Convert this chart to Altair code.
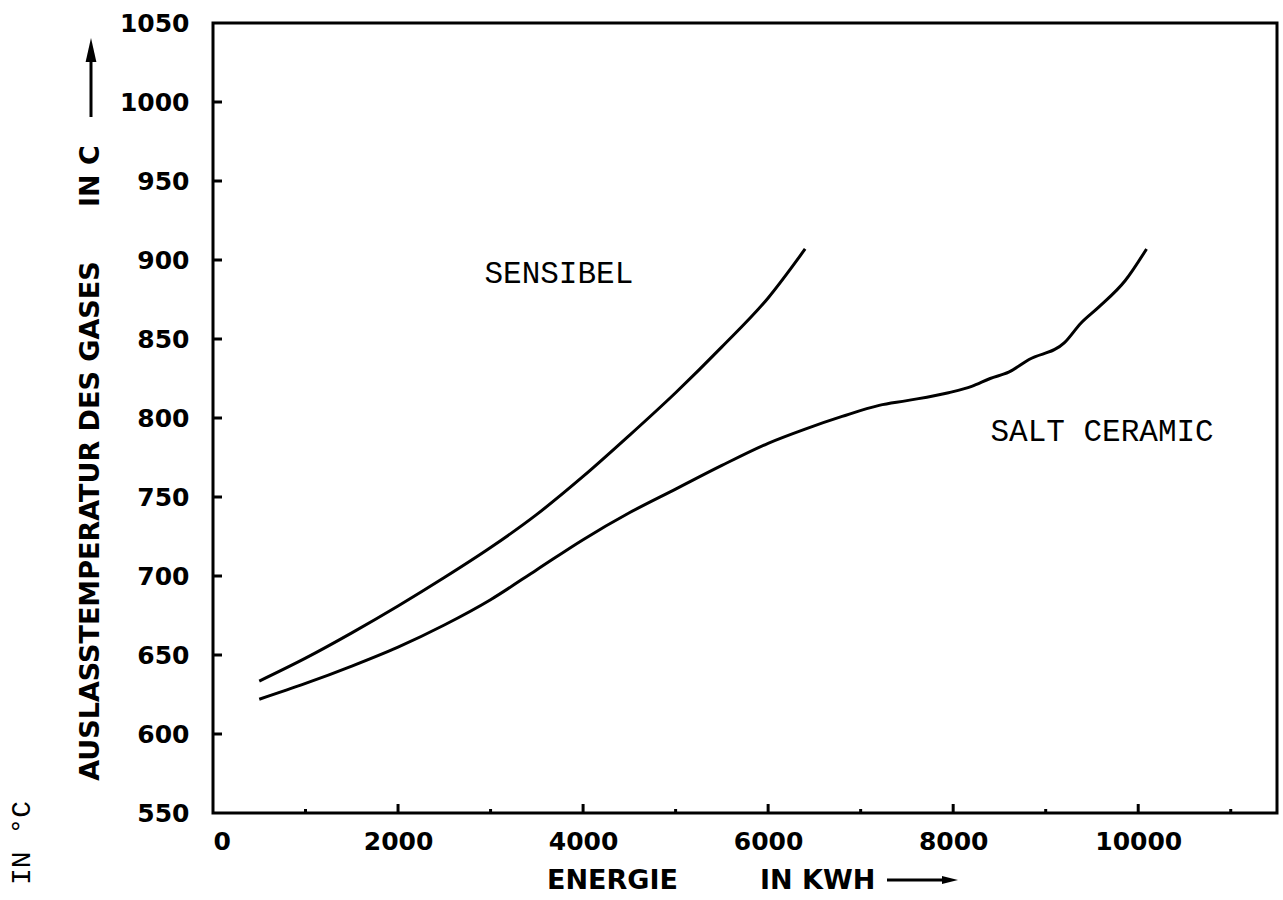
import altair as alt
import pandas as pd

# ---- data ----
sens_x = [500, 1000, 1500, 2000, 2500, 3000, 3500, 4000, 4500, 5000, 5500, 6000, 6400]
sens_y = [633.5, 648, 664, 681, 699, 718, 739, 763, 789, 816, 845, 876, 907]

salt_x = [500, 1000, 1500, 2000, 2500, 3000, 3500, 4000, 4500, 5000, 5500, 6000, 6400,
          6800, 7200, 7500, 7950, 8200, 8400, 8600, 8820, 9200, 9380, 9570, 9860, 10090]
salt_y = [622, 632, 643, 655, 669, 685, 704, 723, 740, 755, 770, 784, 793,
          801, 808, 811, 816, 820, 825, 829, 837, 847.5, 860, 870, 887, 907]

x_labels = [0, 2000, 4000, 6000, 8000, 10000]
x_major = [2000, 4000, 6000, 8000, 10000]
x_minor = [1000, 3000, 5000, 7000, 9000, 11000]
y_labels = [550, 600, 650, 700, 750, 800, 850, 900, 950, 1000, 1050]
y_ticks = [600, 650, 700, 750, 800, 850, 900, 950, 1000]

annot_text = ["SENSIBEL", "SALT CERAMIC"]
annot_x = [2934, 8403]
annot_y = [891, 791]

# ---- tables ----
sens_df = pd.DataFrame({"x": sens_x, "y": sens_y})
salt_df = pd.DataFrame({"x": salt_x, "y": salt_y})
annots = pd.DataFrame({"t": annot_text, "x": annot_x, "y": annot_y})

W, H = 1064, 790
TICK_FONT = "DejaVu Sans"
MONO = "Courier New, Liberation Mono, monospace"

xscale = alt.Scale(domain=[0, 11500], nice=False, zero=False)
yscale = alt.Scale(domain=[550, 1050], nice=False, zero=False)

xaxis = alt.Axis(values=x_labels, title=None, ticks=False, domain=False, grid=False,
                 labelPadding=16, labelFontSize=25, labelFont=TICK_FONT,
                 labelFontWeight="bold", labelColor="black", format="d")
yaxis = alt.Axis(values=y_labels, title=None, ticks=False, domain=False, grid=False,
                 labelPadding=24, labelFontSize=25, labelFont=TICK_FONT,
                 labelFontWeight="bold", labelColor="black", format="d")

sens = alt.Chart(sens_df).mark_line(color="black", strokeWidth=3, interpolate="monotone").encode(
    x=alt.X("x:Q", scale=xscale, axis=xaxis),
    y=alt.Y("y:Q", scale=yscale, axis=yaxis),
)
salt = alt.Chart(salt_df).mark_line(color="black", strokeWidth=3, interpolate="monotone").encode(
    x=alt.X("x:Q", scale=xscale),
    y=alt.Y("y:Q", scale=yscale),
)

labels = alt.Chart(annots).mark_text(
    font=MONO, fontSize=31, align="left", baseline="middle", color="black"
).encode(x=alt.X("x:Q", scale=xscale), y=alt.Y("y:Q", scale=yscale), text="t:N")

ytk = alt.Chart(pd.DataFrame({"v": y_ticks})).mark_rule(color="black", strokeWidth=3).encode(
    y=alt.Y("v:Q", scale=yscale), x=alt.value(0), x2=alt.value(9))
xmaj = alt.Chart(pd.DataFrame({"v": x_major})).mark_rule(color="black", strokeWidth=3).encode(
    x=alt.X("v:Q", scale=xscale), y=alt.value(H), y2=alt.value(H - 9))
xmin = alt.Chart(pd.DataFrame({"v": x_minor})).mark_rule(color="black", strokeWidth=3).encode(
    x=alt.X("v:Q", scale=xscale), y=alt.value(H), y2=alt.value(H - 4))

one = pd.DataFrame({"a": [0]})

def txt(text, x, y, angle=0, align="center", font=TICK_FONT, size=27, weight="bold"):
    return alt.Chart(one).mark_text(
        text=text, angle=angle, align=align, baseline="middle", font=font,
        fontSize=size, fontWeight=weight, color="black"
    ).encode(x=alt.value(x), y=alt.value(y))

ytitle1 = txt("AUSLASSTEMPERATUR DES GASES", -122, 498, angle=270)
ytitle2 = txt("IN C", -122, 153, angle=270)
xtitle1 = txt("ENERGIE", 334, 858, align="left")
xtitle2 = txt("IN KWH", 547, 858, align="left")
inC = txt("IN °C", -191, 820, angle=270, font=MONO, size=28, weight="normal")

yshaft = alt.Chart(one).mark_rule(color="black", strokeWidth=3).encode(
    x=alt.value(-122), y=alt.value(94), y2=alt.value(30))
yhead = alt.Chart(one).mark_point(shape="M0,-1L0.45,1L-0.45,1Z", filled=True, color="black",
                                  opacity=1, size=576).encode(x=alt.value(-122), y=alt.value(27))
xshaft = alt.Chart(one).mark_rule(color="black", strokeWidth=3).encode(
    x=alt.value(674), x2=alt.value(733), y=alt.value(857))
xhead = alt.Chart(one).mark_point(shape="M1,0L-1,-0.5L-1,0.5Z", filled=True, color="black",
                                  opacity=1, size=256).encode(x=alt.value(737), y=alt.value(857))

chart = alt.layer(
    sens, salt, labels, ytk, xmaj, xmin,
    ytitle1, ytitle2, xtitle1, xtitle2, inC,
    yshaft, yhead, xshaft, xhead,
).properties(
    width=W, height=H,
    autosize=alt.AutoSizeParams(type="none"),
    padding={"left": 213, "top": 23, "right": 6, "bottom": 87},
    background="white",
).configure_view(stroke="black", strokeWidth=3)

chart.save("out.html", embed_options={"renderer": "svg", "actions": False})
